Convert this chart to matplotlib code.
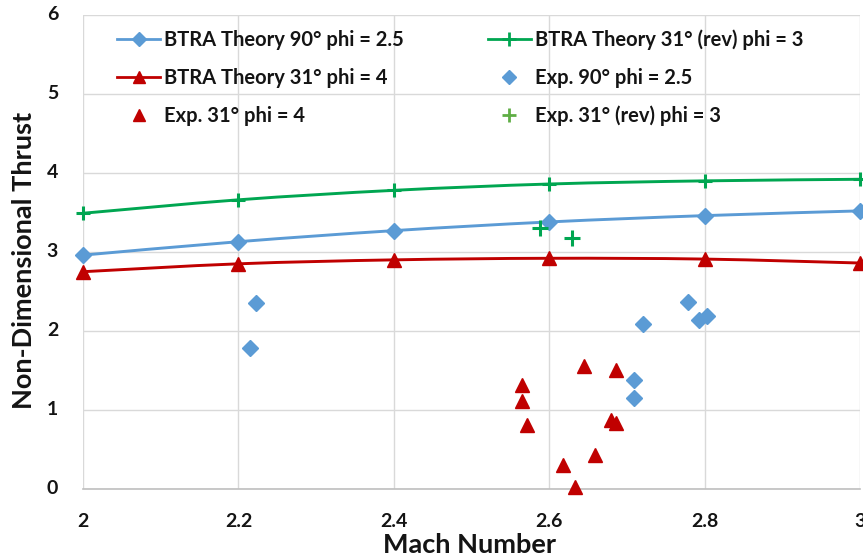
import matplotlib
matplotlib.use("Agg")
import matplotlib.pyplot as plt
import matplotlib.transforms as mtransforms
import numpy as np
from matplotlib.path import Path
from matplotlib.patches import PathPatch
from matplotlib.lines import Line2D

plt.rcParams['font.family'] = ['Lato', 'DejaVu Sans']
plt.rcParams['font.weight'] = 'bold'

# Theory curves
mach_theory = [2.0, 2.2, 2.4, 2.6, 2.8, 3.0]
theory_90_phi25 = [2.96, 3.13, 3.27, 3.38, 3.46, 3.52]
theory_31_phi4 = [2.75, 2.85, 2.90, 2.92, 2.91, 2.86]
theory_31rev_phi3 = [3.49, 3.66, 3.78, 3.86, 3.90, 3.92]

# Experimental points
exp_90_mach = [2.215, 2.223, 2.709, 2.709, 2.721, 2.779, 2.793, 2.803]
exp_90_thrust = [1.78, 2.35, 1.38, 1.15, 2.09, 2.37, 2.14, 2.19]

exp_31_mach = [2.565, 2.565, 2.571, 2.618, 2.633, 2.645, 2.659, 2.680, 2.686, 2.686]
exp_31_thrust = [1.32, 1.11, 0.81, 0.30, 0.03, 1.56, 0.43, 0.87, 0.83, 1.51]

exp_31rev_mach = [2.588, 2.629]
exp_31rev_thrust = [3.30, 3.18]

x_ticks = [2, 2.2, 2.4, 2.6, 2.8, 3]
x_ticklabels = ['2', '2.2', '2.4', '2.6', '2.8', '3']
y_ticks = [0, 1, 2, 3, 4, 5, 6]
y_ticklabels = ['0', '1', '2', '3', '4', '5', '6']

BLUE = '#5B9BD5'
RED = '#C00000'
GREEN = '#00A651'
GREEN_EXP = '#5FAE45'
TEXT = '#141414'


def smooth_path(x, y, tension=1 / 6):
    """Catmull-Rom style cubic Bezier path through the points."""
    pts = np.column_stack([x, y]).astype(float)
    verts = [pts[0]]
    codes = [Path.MOVETO]
    n = len(pts)
    for i in range(n - 1):
        p0 = pts[i - 1] if i > 0 else pts[i]
        p1 = pts[i]
        p2 = pts[i + 1]
        p3 = pts[i + 2] if i + 2 < n else pts[i + 1]
        c1 = p1 + (p2 - p0) * tension
        c2 = p2 - (p3 - p1) * tension
        verts += [c1, c2, p2]
        codes += [Path.CURVE4] * 3
    return Path(verts, codes)


fig = plt.figure(figsize=(8.63, 5.58), dpi=100)
ax = fig.add_axes([0.0962, 0.1237, 0.9003, 0.8495])

ax.set_xlim(2, 3)
ax.set_ylim(0, 6)

for xs, ys, col in [(mach_theory, theory_90_phi25, BLUE),
                    (mach_theory, theory_31_phi4, RED),
                    (mach_theory, theory_31rev_phi3, GREEN)]:
    ax.add_patch(PathPatch(smooth_path(xs, ys), facecolor='none',
                           edgecolor=col, lw=2.1, zorder=3,
                           capstyle='round', joinstyle='round'))

ax.plot(mach_theory, theory_90_phi25, ls='none', marker='D', ms=8,
        color=BLUE, zorder=4, clip_on=False)
ax.plot(mach_theory, theory_31_phi4, ls='none', marker='^', ms=10,
        color=RED, zorder=4, clip_on=False)
ax.plot(mach_theory, theory_31rev_phi3, ls='none', marker='+', ms=10,
        mew=2.2, color=GREEN, zorder=4, clip_on=False)

ax.plot(exp_90_mach, exp_90_thrust, ls='none', marker='D', ms=8,
        color=BLUE, zorder=5)
ax.plot(exp_31_mach, exp_31_thrust, ls='none', marker='^', ms=10,
        color=RED, zorder=5, clip_on=False)
ax.plot(exp_31rev_mach, exp_31rev_thrust, ls='none', marker='+', ms=12,
        mew=2.2, color=GREEN, zorder=5)

ax.set_xticks(x_ticks)
ax.set_xticklabels(x_ticklabels)
ax.set_yticks(y_ticks)
ax.set_yticklabels([])
ax.tick_params(axis='both', length=0, labelsize=14, colors=TEXT)
ax.tick_params(axis='x', pad=17)
for lab in ax.get_xticklabels():
    lab.set_fontweight('bold')

# y tick labels placed a fixed distance left of the plot edge
ylab_tf = mtransforms.blended_transform_factory(ax.transAxes, ax.transData) + \
    mtransforms.ScaledTranslation(-25 / 100, 0, fig.dpi_scale_trans)
for val, txt in zip(y_ticks, y_ticklabels):
    ax.text(0, val, txt, transform=ylab_tf, ha='right', va='center',
            fontsize=14, fontweight='bold', color=TEXT, clip_on=False)

ax.grid(True, color='#D9D9D9', lw=1.0)
ax.set_axisbelow(True)
for side in ['top', 'right', 'left']:
    ax.spines[side].set_visible(False)
ax.spines['bottom'].set_color('#BFBFBF')
ax.spines['bottom'].set_linewidth(1.2)

ax.set_xlabel('Mach Number', fontsize=19.5, fontweight='bold', color=TEXT)
ax.xaxis.set_label_coords(0.497, -0.093)
ax.set_ylabel('Non-Dimensional Thrust', fontsize=19.5, fontweight='bold',
              color=TEXT)
ax.yaxis.set_label_coords(-0.061, 0.483)

handles = [
    Line2D([], [], color=BLUE, lw=2, marker='D', ms=7),
    Line2D([], [], color=RED, lw=2, marker='^', ms=9),
    Line2D([], [], color=RED, ls='none', marker='^', ms=9),
    Line2D([], [], color=GREEN, lw=2, marker='+', ms=10, mew=2),
    Line2D([], [], color=BLUE, ls='none', marker='D', ms=7),
    Line2D([], [], color=GREEN_EXP, ls='none', marker='+', ms=10, mew=2),
]
labels = [
    'BTRA Theory 90° phi = 2.5',
    'BTRA Theory 31° phi = 4',
    'Exp. 31° phi = 4',
    'BTRA Theory 31° (rev) phi = 3',
    'Exp. 90° phi = 2.5',
    'Exp. 31° (rev) phi = 3',
]
leg = fig.legend(handles, labels, ncol=2, loc='upper left',
                 bbox_to_anchor=(117 / 863, 1 - 29 / 558), frameon=False,
                 prop={'size': 14.5, 'weight': 'bold'},
                 borderpad=0, borderaxespad=0,
                 handlelength=2.15, handletextpad=0.2,
                 columnspacing=4.15, labelspacing=0.9)
for t in leg.get_texts():
    t.set_color(TEXT)

fig.savefig('out.png', dpi=100)
